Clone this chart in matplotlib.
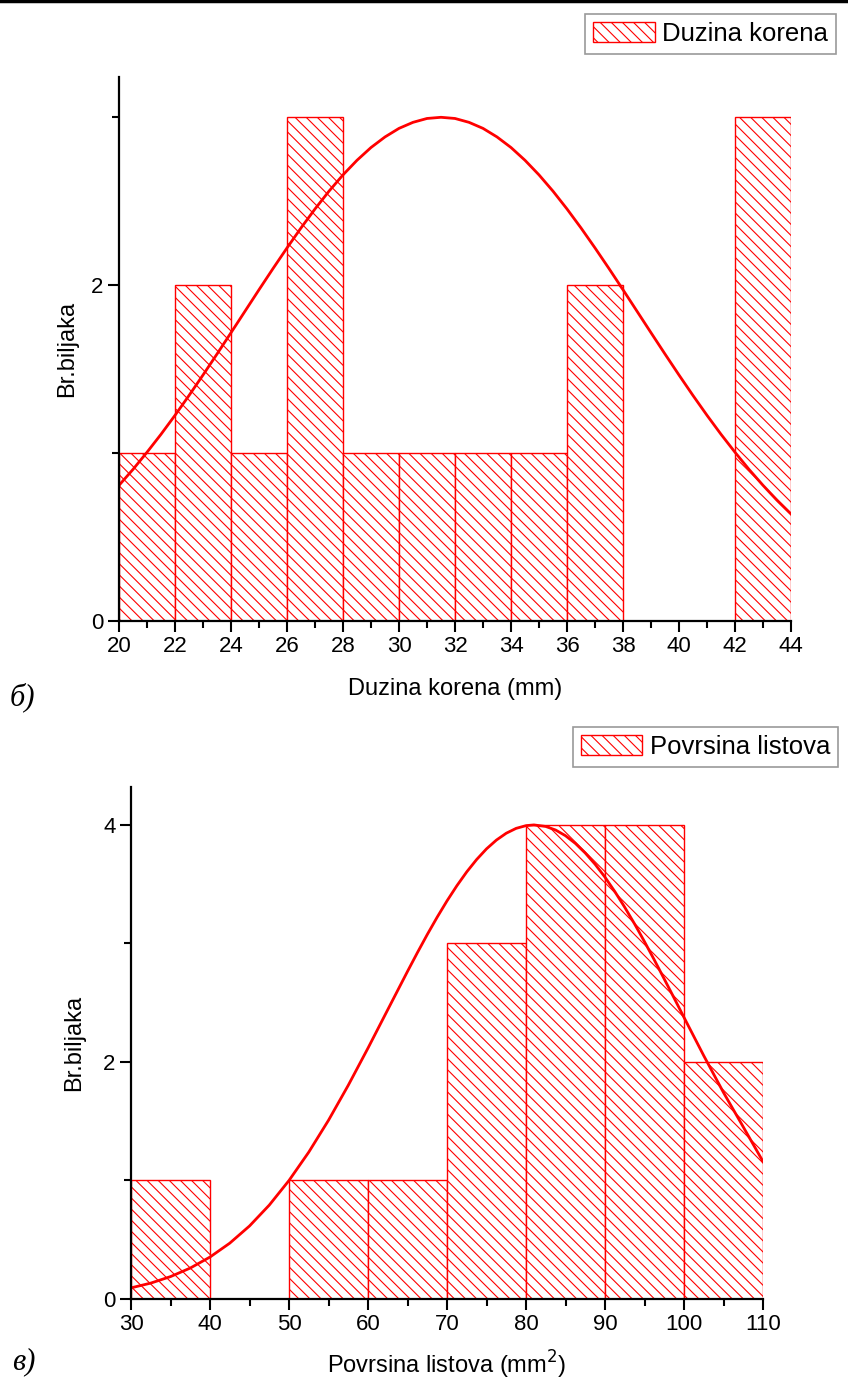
import numpy as np
import matplotlib
matplotlib.use("Agg")
import matplotlib.pyplot as plt
from matplotlib.ticker import MultipleLocator
from matplotlib.lines import Line2D

plt.rcParams['font.family'] = ['Liberation Sans', 'DejaVu Sans']
plt.rcParams['hatch.linewidth'] = 0.8
plt.rcParams['hatch.color'] = '#ff2020'

# panel b) - root length histogram
root_edges = [20, 22, 24, 26, 28, 30, 32, 34, 36, 38, 40, 42]
root_counts = [1, 2, 1, 3, 1, 1, 1, 1, 2, 0, 0, 3]
root_fit_x = [20, 20.5, 21, 21.5, 22, 22.5, 23, 23.5, 24, 24.5, 25, 25.5, 26,
              26.5, 27, 27.5, 28, 28.5, 29, 29.5, 30, 30.5, 31, 31.5, 32,
              32.5, 33, 33.5, 34, 34.5, 35, 35.5, 36, 36.5, 37, 37.5, 38,
              38.5, 39, 39.5, 40, 40.5, 41, 41.5, 42, 42.5, 43, 43.5, 44]
root_fit_y = [0.808, 0.903, 1.005, 1.112, 1.225, 1.343, 1.465, 1.590, 1.717,
              1.845, 1.973, 2.099, 2.222, 2.341, 2.454, 2.560, 2.657, 2.744,
              2.820, 2.883, 2.934, 2.970, 2.993, 3.000, 2.993, 2.970, 2.934,
              2.883, 2.820, 2.744, 2.657, 2.560, 2.454, 2.341, 2.222, 2.099,
              1.973, 1.845, 1.717, 1.590, 1.465, 1.343, 1.225, 1.112, 1.005,
              0.903, 0.808, 0.719, 0.637]

# panel c) - leaf area histogram
leaf_edges = [30, 40, 50, 60, 70, 80, 90, 100]
leaf_counts = [1, 0, 1, 1, 3, 4, 4, 2]
leaf_fit_x = [30, 32.5, 35, 37.5, 40, 42.5, 45, 47.5, 50, 52.5, 55, 57.5, 60,
              62.5, 65, 66.25, 67.5, 68.75, 70, 71.25, 72.5, 73.75, 75, 76.25,
              77.5, 78.75, 80, 81, 82.5, 83.75, 85, 86.25, 87.5, 88.75, 90,
              91.25, 92.5, 93.75, 95, 96.25, 97.5, 98.75, 100, 102.5, 105,
              107.5, 110]
leaf_fit_y = [0.094, 0.134, 0.189, 0.261, 0.354, 0.471, 0.616, 0.792, 1.000,
              1.239, 1.508, 1.803, 2.117, 2.441, 2.764, 2.922, 3.075, 3.221,
              3.359, 3.487, 3.604, 3.708, 3.798, 3.872, 3.930, 3.971, 3.994,
              4.000, 3.987, 3.957, 3.909, 3.844, 3.763, 3.668, 3.559, 3.437,
              3.305, 3.164, 3.015, 2.860, 2.700, 2.539, 2.376, 2.053, 1.742,
              1.452, 1.160]

W, H = 848, 1389
fig = plt.figure(figsize=(W / 100, H / 100), dpi=100)

red = '#ff0000'


def panel(rect, edges, counts, width, fx, fy, xlim, ylim, xmaj, xmin,
          xlabel, leg_label, leg_anchor, ylab_x, xlab_y):
    ax = fig.add_axes(rect)
    ax.bar(edges, counts, width=width, align='edge', color='white',
           edgecolor=red, hatch='\\\\\\', linewidth=1.0, label=leg_label,
           zorder=2)
    ax.plot(fx, fy, color=red, lw=2, zorder=3)
    ax.set_xlim(*xlim)
    ax.set_ylim(*ylim)
    ax.xaxis.set_major_locator(MultipleLocator(xmaj))
    ax.xaxis.set_minor_locator(MultipleLocator(xmin))
    ax.yaxis.set_major_locator(MultipleLocator(2))
    ax.yaxis.set_minor_locator(MultipleLocator(1))
    for s in ['top', 'right']:
        ax.spines[s].set_visible(False)
    for s in ['left', 'bottom']:
        ax.spines[s].set_linewidth(1.6)
        ax.spines[s].set_zorder(4)
    ax.tick_params(which='major', length=8, width=1.5, labelsize=16, pad=3)
    ax.tick_params(which='minor', length=5, width=1.5)
    ax.set_xlabel(xlabel, fontsize=17)
    ax.set_ylabel('Br.biljaka', fontsize=17)
    ax.yaxis.set_label_coords(ylab_x, 0.5)
    ax.xaxis.set_label_coords(0.5, xlab_y)
    leg = ax.legend(loc='upper right', bbox_to_anchor=leg_anchor,
                    bbox_transform=fig.transFigure, borderaxespad=0,
                    fancybox=False, edgecolor='#808080', fontsize=18.5,
                    handlelength=2.4, handleheight=0.85, handletextpad=0.3,
                    borderpad=0.3)
    leg.get_frame().set_linewidth(1.2)
    return ax


panel([119 / W, 1 - 621 / H, 672 / W, 544 / H], root_edges, root_counts, 2,
      root_fit_x, root_fit_y, (20, 44), (0, 3.24), 2, 1,
      'Duzina korena (mm)', 'Duzina korena', (836 / W, 1 - 14 / H),
      -0.061, -0.105)

panel([131 / W, 1 - 1299 / H, 632 / W, 512 / H], leaf_edges, leaf_counts, 10,
      leaf_fit_x, leaf_fit_y, (30, 110), (0, 4.32), 10, 5,
      'Povrsina listova (mm$^2$)', 'Povrsina listova', (838 / W, 1 - 727 / H),
      -0.073, -0.097)

fig.text(10 / W, 1 - 697 / H, 'б)', fontsize=22, style='italic',
         family=['Liberation Serif', 'DejaVu Serif'], va='center')
fig.text(12 / W, 1 - 1362 / H, 'в)', fontsize=22, style='italic',
         family=['Liberation Serif', 'DejaVu Serif'], va='center')
fig.add_artist(Line2D([0, 1], [1 - 1 / H, 1 - 1 / H], color='black', lw=2.5,
                      transform=fig.transFigure))

plt.savefig("out.png", dpi=100)
